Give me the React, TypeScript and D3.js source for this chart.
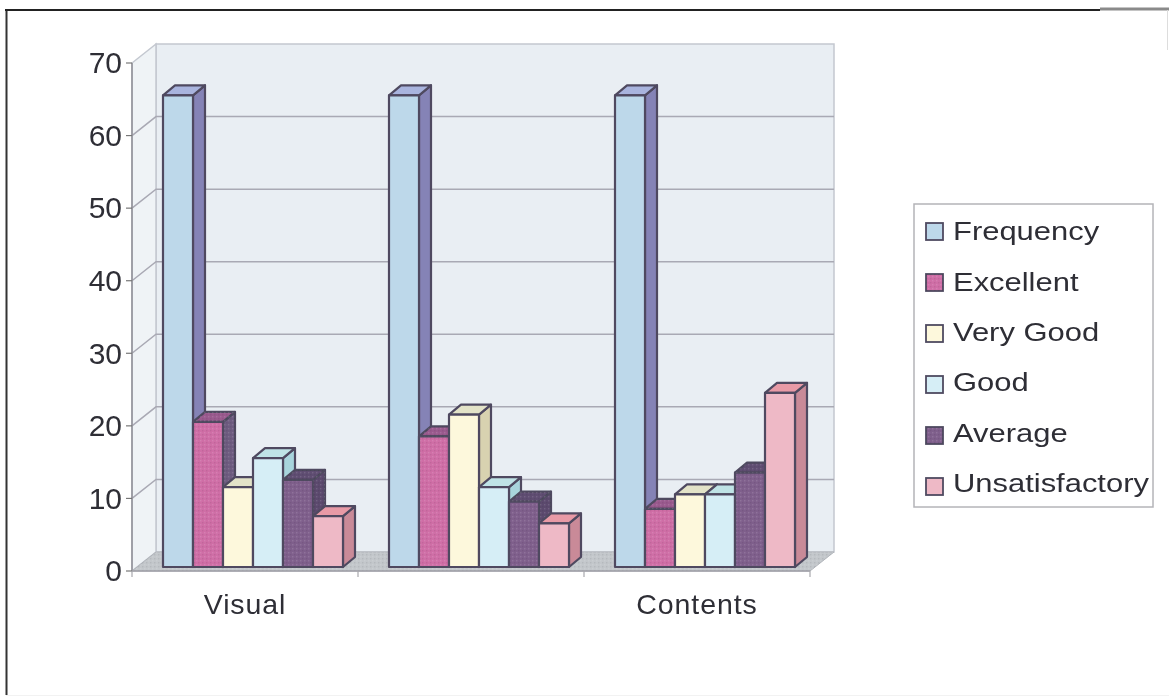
import React from "react";
import * as d3 from "d3";

const categories = ["Visual", "", "Contents"];
const seriesNames = ["Frequency", "Excellent", "Very Good", "Good", "Average", "Unsatisfactory"];
const frequency = [65, 65, 65];
const excellent = [20, 18, 8];
const veryGood = [11, 21, 10];
const good = [15, 11, 10];
const average = [12, 9, 13];
const unsatisfactory = [7, 6, 24];
const yTicks = [0, 10, 20, 30, 40, 50, 60, 70];

const seriesValues = [frequency, excellent, veryGood, good, average, unsatisfactory];
const frontColors = ["#bdd8ea", "#cf6ea6", "#fdf8dc", "#d6eef6", "#7f5f8c", "#eeb9c6"];
const topColors = ["#a9b4de", "#9a5a8e", "#e3e3c8", "#bfe3e6", "#5f4d72", "#e89aa6"];
const sideColors = ["#8583b6", "#6e5b80", "#d8d2b0", "#a8d4dc", "#5c4a6e", "#c98a98"];
const stippled = [false, true, false, false, true, false];

const FONT = "'Liberation Sans', Arial, sans-serif";
const INK = "#2e2e36";
const EDGE = "#4f4a60";

// Oblique offset of the wall plane and of each bar's depth.
const WALL_DX = 24;
const WALL_DY = -19;
const BAR_DX = 12;
const BAR_DY = -10;
const BAR_INSET_X = 31;
const BAR_INSET_Y = -4;

const x = d3.scaleBand<number>().domain([0, 1, 2]).range([132, 810]).paddingInner(0).paddingOuter(0);
const y = d3.scaleLinear().domain([0, 70]).range([571, 63]);
const barX = d3.scaleBand<number>().domain(d3.range(6)).range([0, 180]);

const poly = (pts: [number, number][]) => pts.map((p) => p.join(",")).join(" ");

export default function App() {
  const left = x.range()[0];
  const right = x.range()[1];
  const y0 = y(0);
  const y70 = y(70);

  return (
    <svg
      width={1169}
      height={696}
      style={{ position: "absolute", left: 0, top: 0, background: "#ffffff" }}
      fontFamily={FONT}
    >
      <defs>
        <filter id="soft" x="-5%" y="-5%" width="110%" height="110%">
          <feGaussianBlur stdDeviation="0.5" />
        </filter>
        <pattern id="stipple" width="4" height="4" patternUnits="userSpaceOnUse">
          <rect x="0" y="0" width="1.4" height="1.4" fill="#ffffff" fillOpacity="0.12" />
          <rect x="2" y="2" width="1.4" height="1.4" fill="#000000" fillOpacity="0.07" />
        </pattern>
      </defs>

      {/* Page frame */}
      <path d="M6.5,695 L6.5,10" fill="none" stroke="#333" strokeWidth={2} />
      <path d="M5,10 L1100,10" fill="none" stroke="#222" strokeWidth={1.8} />
      <path d="M1100,9 L1169,9" fill="none" stroke="#8a8a8a" strokeWidth={3} />
      <path d="M1167.5,10 L1167.5,50" fill="none" stroke="#ddd" strokeWidth={1} />
      <path d="M6,695.5 L1169,695.5" fill="none" stroke="#f2f2f2" strokeWidth={1} />

      <g filter="url(#soft)">
        {/* Walls and floor */}
        <polygon
          points={poly([[left + WALL_DX, y70 + WALL_DY], [right + WALL_DX, y70 + WALL_DY], [right + WALL_DX, y0 + WALL_DY], [left + WALL_DX, y0 + WALL_DY]])}
          fill="#e9eef3"
          stroke="#c4c8d0"
          strokeWidth={1.5}
        />
        <polygon
          points={poly([[left, y70], [left + WALL_DX, y70 + WALL_DY], [left + WALL_DX, y0 + WALL_DY], [left, y0]])}
          fill="#eff3f6"
          stroke="#c4c8d0"
          strokeWidth={1.5}
        />
        <polygon
          points={poly([[left, y0], [left + WALL_DX, y0 + WALL_DY], [right + WALL_DX, y0 + WALL_DY], [right, y0]])}
          fill="#c3c7cb"
          stroke="#b0b4ba"
        />
        <polygon
          points={poly([[left, y0], [left + WALL_DX, y0 + WALL_DY], [right + WALL_DX, y0 + WALL_DY], [right, y0]])}
          fill="url(#stipple)"
        />

        {/* Gridlines run along the side wall, then the back wall */}
        {yTicks.slice(1, -1).map((t) => (
          <polyline
            key={t}
            points={poly([[left, y(t)], [left + WALL_DX, y(t) + WALL_DY], [right + WALL_DX, y(t) + WALL_DY]])}
            fill="none"
            stroke="#a9a9b4"
            strokeWidth={1.5}
          />
        ))}

        {/* Value axis */}
        <line x1={left} x2={left} y1={y70} y2={y0} stroke="#8e8e96" strokeWidth={1.5} />
        {yTicks.map((t) => (
          <g key={t}>
            <line x1={left - 6} x2={left} y1={y(t)} y2={y(t)} stroke="#777" strokeWidth={1.2} />
            <text x={left - 10} y={y(t) - 0.5} dy="0.36em" textAnchor="end" fontSize={30} fill={INK}>
              {t}
            </text>
          </g>
        ))}

        {/* Category axis */}
        <line x1={left} x2={right} y1={y0} y2={y0} stroke="#a0a0a8" strokeWidth={1.5} />
        {[0, 1, 2, 3].map((i) => {
          const tx = left + i * x.bandwidth();
          return <line key={i} x1={tx} x2={tx} y1={y0} y2={y0 + 6} stroke="#a8a8ae" strokeWidth={1.2} />;
        })}
        {categories.map((c, i) => (
          <text
            key={i}
            x={(x(i) as number) + x.bandwidth() / 2}
            y={614}
            textAnchor="middle"
            fontSize={28.5}
            letterSpacing={0.9}
            fill={INK}
          >
            {c}
          </text>
        ))}

        {/* Bars, painted left to right so that later bars cover earlier side faces */}
        {categories.map((_, c) =>
          seriesValues.map((vals, s) => {
            const v = vals[c];
            const x0 = (x(c) as number) + BAR_INSET_X + (barX(s) as number);
            const x1 = x0 + barX.bandwidth();
            const top = y(v) + BAR_INSET_Y;
            const bot = y0 + BAR_INSET_Y;
            const side = poly([[x1, top], [x1 + BAR_DX, top + BAR_DY], [x1 + BAR_DX, bot + BAR_DY], [x1, bot]]);
            const cap = poly([[x0, top], [x0 + BAR_DX, top + BAR_DY], [x1 + BAR_DX, top + BAR_DY], [x1, top]]);
            return (
              <g key={`${c}-${s}`} stroke={EDGE} strokeWidth={2.2} strokeLinejoin="round">
                <polygon points={side} fill={sideColors[s]} />
                <polygon points={cap} fill={topColors[s]} />
                <rect x={x0} y={top} width={x1 - x0} height={bot - top} fill={frontColors[s]} />
                {stippled[s] && (
                  <g stroke="none">
                    <polygon points={side} fill="url(#stipple)" />
                    <polygon points={cap} fill="url(#stipple)" />
                    <rect x={x0 + 1} y={top + 1} width={x1 - x0 - 2} height={bot - top - 2} fill="url(#stipple)" />
                  </g>
                )}
              </g>
            );
          })
        )}

        {/* Legend */}
        <rect x={914} y={204} width={239} height={303} fill="#ffffff" stroke="#b4b4b8" strokeWidth={1.5} />
        {seriesNames.map((name, s) => {
          const swatchY = 232 + s * 51;
          const textY = 231 + s * 50.3;
          return (
            <g key={name}>
              <rect x={926} y={swatchY - 9} width={17} height={17} fill={frontColors[s]} stroke={EDGE} strokeWidth={1.8} />
              {stippled[s] && <rect x={926} y={swatchY - 9} width={17} height={17} fill="url(#stipple)" />}
              <text
                transform={`translate(953,${textY}) scale(1.19,1)`}
                dy="0.36em"
                fontSize={26}
                fill={INK}
              >
                {name}
              </text>
            </g>
          );
        })}
      </g>
    </svg>
  );
}
